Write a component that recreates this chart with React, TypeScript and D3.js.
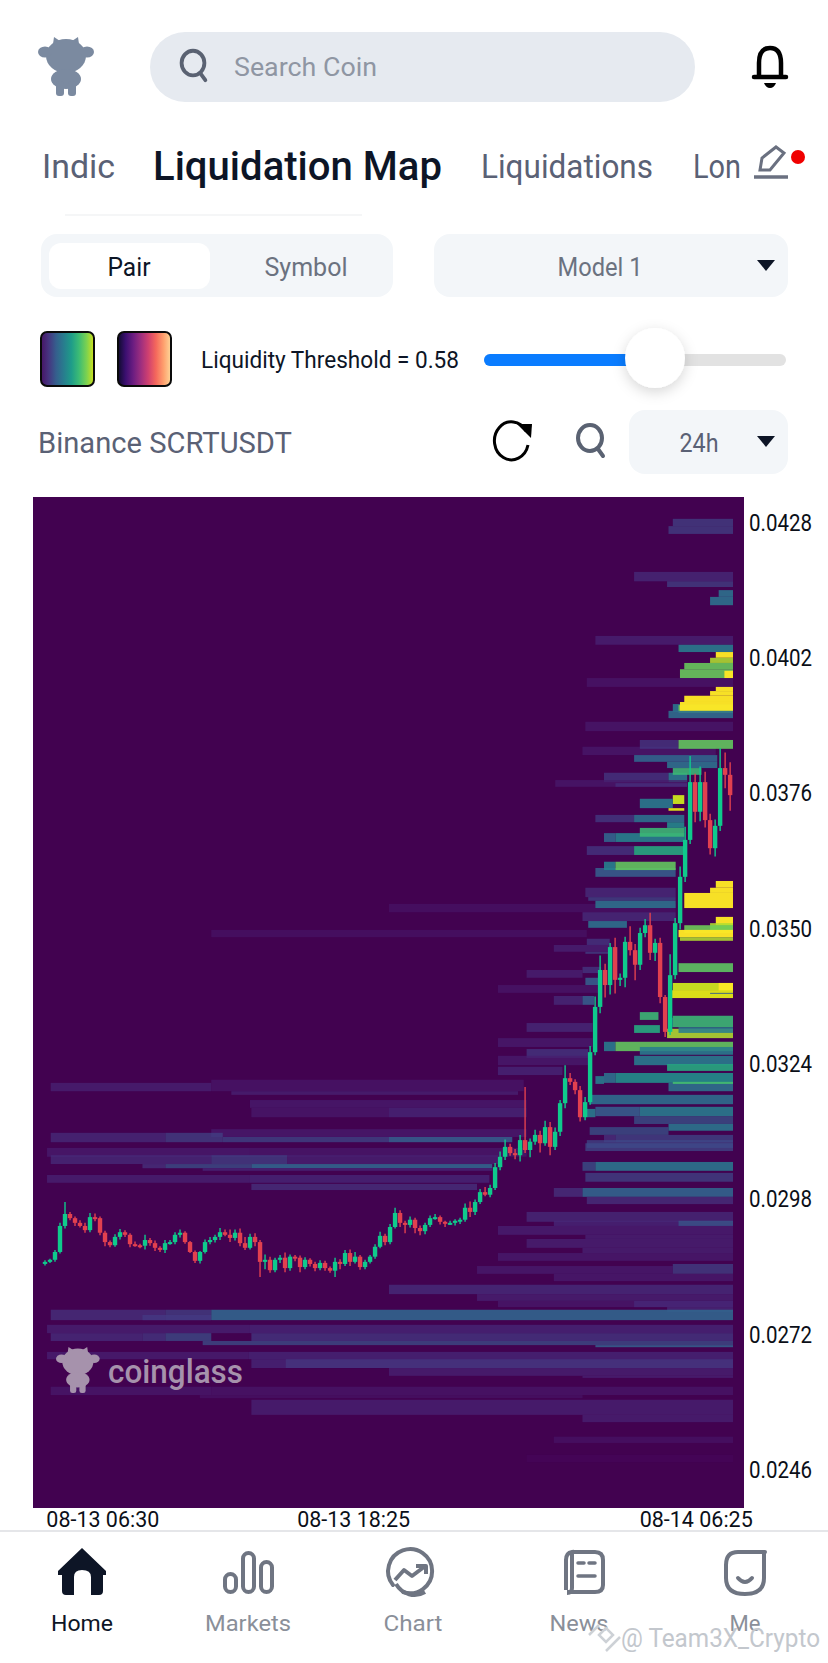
import { useEffect, useRef } from 'react'
import * as d3 from 'd3'

// prices below are in 1e-5 USDT, hours count from the left edge of the 24h window
type Band = [number, number, number, number, number] // top, bottom, startHour, endHour, value

const priceTicks = [0.0428, 0.0402, 0.0376, 0.035, 0.0324, 0.0298, 0.0272, 0.0246]
const timeTicks = [2.0, 10.75, 22.7]
const timeLabels = ['08-13 06:30', '08-13 18:25', '08-14 06:25']

const upperBands: Band[] = [
  [4288, 4274, 21.9, 24, 0.2], [4274, 4259, 21.75, 24, 0.2], [4186, 4168, 20.55, 24, 0.13], [4168, 4157, 21.7, 24, 0.2],
  [4151, 4138, 23.5, 24, 0.38], [4138, 4122, 23.2, 24, 0.38], [4063, 4046, 19.2, 24, 0.1], [4046, 4032, 22.1, 24, 0.42],
  [4032, 4021, 23.4, 24, 1], [4021, 4011, 23.2, 24, 0.88], [4011, 3999, 22.3, 24, 0.77], [3999, 3982, 22.15, 24, 0.77],
  [3996, 3982, 23.7, 24, 1], [3982, 3965, 18.9, 24, 0.06], [3965, 3957, 23.4, 24, 1], [3957, 3948, 23.2, 24, 1],
  [3948, 3936, 22.3, 24, 1], [3932, 3917, 21.9, 24, 0.4], [3930, 3915, 22.1, 24, 0.8], [3936, 3919, 22.15, 24, 1],
  [3919, 3905, 21.75, 24, 0.36], [3898, 3880, 18.85, 24, 0.07], [3850, 3834, 18.75, 23.4, 0.07], [3863, 3846, 20.75, 22.1, 0.17],
  [3863, 3846, 22.1, 24, 0.76], [3834, 3821, 20.55, 23.45, 0.33], [3821, 3809, 21.7, 23.45, 0.38], [3800, 3782, 19.5, 21.75, 0.17],
  [3800, 3782, 21.75, 22.4, 0.42], [3809, 3796, 21.9, 22.9, 0.68], [3786, 3773, 17.8, 22.4, 0.07], [3780, 3773, 19.9, 22.4, 0.14],
  [3757, 3740, 21.9, 22.3, 0.92], [3750, 3732, 20.75, 21.9, 0.42], [3732, 3727, 21.75, 22.3, 0.95], [3719, 3705, 19.2, 20.55, 0.18],
  [3719, 3705, 20.55, 22.3, 0.38], [3705, 3694, 21.7, 22.3, 0.48], [3684, 3667, 19.5, 19.9, 0.33], [3684, 3667, 19.9, 22.3, 0.45],
  [3694, 3677, 20.75, 22.3, 0.68], [3659, 3642, 18.9, 20.55, 0.17], [3659, 3642, 20.55, 22.3, 0.62], [3617, 3600, 19.2, 22, 0.3],
  [3629, 3613, 19.5, 19.9, 0.45], [3629, 3613, 19.9, 22, 0.76], [3592, 3579, 23.4, 24, 1], [3579, 3569, 23.2, 24, 1],
  [3569, 3540, 22.3, 24, 1], [3579, 3561, 18.85, 22, 0.14], [3561, 3554, 18.95, 22, 0.22], [3548, 3532, 12, 22, 0.05],
  [3554, 3540, 19.2, 22, 0.38], [3532, 3515, 18.75, 22, 0.14], [3515, 3502, 18.95, 20.3, 0.38], [3498, 3484, 5.8, 18.9, 0.05],
]

const middleBands: Band[] = [
  [3481, 3469, 18.9, 19.7, 0.17], [3469, 3456, 17.75, 19.7, 0.1], [3456, 3452, 18.85, 19.7, 0.2], [3523, 3507, 23.4, 24, 1],
  [3511, 3492, 23.2, 24, 0.88], [3507, 3492, 22.3, 24, 0.78], [3498, 3484, 22.1, 24, 1], [3484, 3477, 22.15, 24, 0.88],
  [3434, 3417, 22.1, 24, 0.75], [3427, 3415, 18.75, 19.4, 0.17], [3421, 3406, 16.8, 18.75, 0.1], [3406, 3392, 18.85, 19.4, 0.3],
  [3392, 3377, 15.8, 19.3, 0.06], [3396, 3381, 21.9, 24, 0.92], [3396, 3381, 23.5, 24, 1], [3382, 3367, 21.8, 24, 0.95],
  [3377, 3375, 23.2, 24, 0.3], [3371, 3354, 17.75, 18.75, 0.13], [3371, 3354, 18.75, 19.15, 0.3], [3340, 3325, 20.75, 21.4, 0.68],
  [3329, 3311, 21.75, 21.9, 0.4], [3333, 3311, 21.9, 24, 0.68], [3319, 3302, 16.8, 19.1, 0.13], [3315, 3300, 20.55, 21.45, 0.62],
  [3308, 3290, 21.7, 24, 0.88], [3311, 3300, 22.1, 24, 0.42], [3290, 3273, 15.8, 19.1, 0.08], [3283, 3265, 19.5, 19.9, 0.42],
  [3283, 3265, 19.9, 24, 0.76], [3269, 3252, 16.8, 18.95, 0.17], [3273, 3258, 20.75, 24, 0.42], [3256, 3238, 15.8, 18.95, 0.08],
  [3256, 3238, 20.55, 24, 0.42], [3240, 3227, 21.7, 24, 0.62], [3235, 3219, 15.8, 18.05, 0.12], [3217, 3202, 19.2, 19.5, 0.42],
  [3223, 3204, 19.5, 19.9, 0.38], [3223, 3204, 19.9, 24, 0.5], [3204, 3188, 21.75, 24, 0.38], [3206, 3202, 21.9, 24, 0.7],
  [3204, 3188, 0.2, 5.8, 0.1], [3210, 3188, 5.8, 16.7, 0.06], [3188, 3181, 6.5, 16.5, 0.1], [3181, 3163, 19, 24, 0.36],
  [3171, 3156, 7.15, 16.8, 0.08], [3158, 3140, 19.2, 20.75, 0.3], [3158, 3140, 20.75, 24, 0.42], [3154, 3138, 18.9, 19.2, 0.42],
  [3156, 3138, 7.2, 12, 0.07], [3156, 3138, 12, 16.8, 0.12], [3140, 3125, 20.55, 24, 0.27], [3119, 3104, 19, 21.75, 0.27],
  [3125, 3112, 21.75, 24, 0.4],
]

const lowerBands: Band[] = [
  [3115, 3100, 5.8, 16.8, 0.08], [3108, 3090, 0.2, 4.2, 0.13], [3108, 3090, 4.2, 6.2, 0.2], [3100, 3090, 6.2, 12, 0.22],
  [3100, 3090, 12, 16.3, 0.3], [3104, 3090, 19.5, 19.9, 0.15], [3104, 3090, 19.9, 24, 0.22], [3094, 3079, 18.9, 24, 0.22],
  [3088, 3073, 18.85, 24, 0.23], [3079, 3062, 0.07, 7.15, 0.08], [3079, 3062, 7.15, 16.8, 0.07], [3065, 3048, 0.2, 5.8, 0.13],
  [3065, 3048, 5.8, 8.45, 0.2], [3065, 3048, 8.45, 15.8, 0.1], [3048, 3040, 3.4, 4.2, 0.15], [3048, 3040, 4.2, 7.2, 0.26],
  [3048, 3040, 7.2, 15.6, 0.33], [3040, 3035, 5.5, 15.6, 0.12], [3052, 3035, 18.75, 19.2, 0.27], [3052, 3035, 19.2, 24, 0.4],
  [3031, 3014, 18.85, 24, 0.21], [3027, 3012, 0.07, 7.15, 0.1], [3027, 3012, 7.15, 15.5, 0.12], [3010, 2998, 7.2, 15.07, 0.15],
  [3002, 2985, 17.75, 18.75, 0.15], [3002, 2985, 18.75, 24, 0.33], [2985, 2971, 18.9, 24, 0.15], [2956, 2937, 16.8, 24, 0.13],
  [2939, 2929, 17.75, 24, 0.12], [2939, 2929, 22.1, 24, 0.28], [2929, 2912, 15.8, 24, 0.09], [2912, 2904, 18.85, 24, 0.1],
  [2904, 2887, 16.8, 24, 0.1], [2887, 2877, 18.75, 24, 0.1], [2877, 2862, 15.8, 24, 0.08], [2852, 2837, 15.07, 21.9, 0.08],
  [2856, 2837, 21.9, 24, 0.2], [2837, 2823, 17.75, 24, 0.08], [2816, 2798, 12, 24, 0.14], [2798, 2785, 15.07, 24, 0.1],
  [2785, 2773, 15.8, 24, 0.07], [2785, 2773, 20.55, 24, 0.12], [2773, 2764, 21.7, 24, 0.13], [2768, 2748, 0.2, 4.2, 0.15],
  [2768, 2748, 4.2, 5.8, 0.2], [2758, 2748, 3.4, 5.8, 0.17], [2768, 2748, 5.8, 24, 0.33], [2739, 2723, 0.07, 7.15, 0.1],
  [2739, 2723, 7.15, 24, 0.12], [2723, 2708, 0.2, 3.4, 0.14], [2723, 2708, 3.4, 4.2, 0.17], [2723, 2708, 4.2, 5.8, 0.25],
  [2723, 2708, 7.2, 24, 0.17], [2708, 2700, 5.5, 24, 0.25], [2700, 2696, 19.2, 24, 0.3], [2687, 2673, 0.07, 7.1, 0.09],
  [2687, 2673, 7.1, 24, 0.12], [2673, 2656, 7.2, 24, 0.12], [2673, 2656, 8.4, 24, 0.16], [2656, 2641, 12, 24, 0.1],
  [2641, 2637, 18.75, 24, 0.1], [2620, 2604, 0.2, 5.8, 0.07], [2620, 2604, 5.8, 24, 0.06], [2604, 2598, 5.4, 18.75, 0.05],
  [2595, 2566, 7.2, 24, 0.1], [2566, 2552, 18.75, 24, 0.1], [2524, 2512, 17.75, 24, 0.05], [2489, 2475, 16.8, 24, 0.015],
]

const candleClose = [
  2860, 2864, 2879, 2929, 2952, 2944, 2935, 2929, 2921, 2946,
  2944, 2916, 2898, 2892, 2908, 2917, 2912, 2894, 2892, 2891,
  2902, 2896, 2887, 2883, 2896, 2898, 2912, 2916, 2898, 2879,
  2862, 2879, 2898, 2902, 2908, 2917, 2912, 2906, 2916, 2896,
  2887, 2908, 2898, 2860, 2864, 2844, 2864, 2868, 2848, 2870,
  2868, 2850, 2864, 2856, 2848, 2858, 2848, 2843, 2860, 2856,
  2877, 2860, 2870, 2850, 2860, 2870, 2889, 2910, 2898, 2927,
  2954, 2935, 2931, 2941, 2925, 2919, 2931, 2944, 2946, 2937,
  2935, 2935, 2939, 2941, 2964, 2956, 2975, 2994, 2989, 3002,
  3042, 3062, 3081, 3069, 3065, 3094, 3075, 3091, 3104, 3088,
  3119, 3081, 3110, 3165, 3213, 3206, 3190, 3138, 3167, 3263,
  3350, 3421, 3392, 3465, 3402, 3406, 3475, 3459, 3431, 3492,
  3507, 3454, 3473, 3369, 3302, 3411, 3511, 3600, 3671, 3782,
  3725, 3782, 3709, 3655, 3698, 3809, 3796, 3757,
]
const upperWick = [
  3, 2, 4, 6, 23, 4, 3, 5, 6, 8,
  7, 3, 4, 3, 5, 6, 4, 3, 5, 3,
  10, 4, 5, 3, 6, 4, 5, 6, 3, 2,
  3, 2, 5, 6, 4, 8, 5, 10, 6, 8,
  12, 6, 7, 4, 10, 6, 4, 5, 10, 4,
  3, 4, 5, 3, 4, 5, 4, 3, 8, 5,
  6, 7, 9, 3, 4, 3, 5, 8, 4, 6,
  10, 5, 4, 6, 4, 5, 4, 5, 6, 3,
  2, 4, 3, 4, 8, 12, 5, 6, 10, 6,
  8, 10, 14, 6, 8, 10, 102, 6, 10, 8,
  12, 10, 8, 6, 25, 10, 5, 8, 10, 12,
  20, 28, 12, 8, 18, 8, 10, 30, 12, 10,
  12, 24, 8, 10, 4, 40, 10, 20, 25, 50,
  16, 30, 20, 12, 12, 38, 30, 24,
]
const lowerWick = [
  3, 2, 4, 3, 5, 4, 6, 3, 5, 4,
  6, 5, 8, 4, 3, 5, 4, 6, 3, 5,
  7, 5, 6, 4, 6, 3, 4, 5, 3, 2,
  4, 5, 3, 4, 5, 6, 3, 8, 5, 6,
  4, 3, 8, 29, 14, 5, 4, 6, 8, 5,
  7, 10, 4, 5, 6, 4, 5, 4, 12, 10,
  4, 8, 3, 5, 4, 3, 4, 3, 6, 4,
  3, 8, 16, 5, 10, 8, 6, 4, 3, 5,
  8, 4, 5, 6, 4, 10, 6, 4, 3, 5,
  4, 6, 6, 5, 8, 12, 6, 14, 6, 18,
  5, 16, 6, 8, 10, 6, 8, 8, 6, 5,
  6, 12, 24, 18, 26, 12, 18, 10, 30, 10,
  8, 14, 16, 12, 10, 6, 8, 12, 10, 8,
  20, 18, 14, 12, 16, 10, 26, 30,
]

const magmaStops = [0.08, 0.2, 0.32, 0.44, 0.56, 0.68, 0.8, 0.92].map(d3.interpolateMagma)
const viridisStops = [0.05, 0.15, 0.3, 0.42, 0.55, 0.68, 0.8, 0.93].map(d3.interpolateViridis)

const FONT = 'Roboto, sans-serif'

function Label({ x, y, w, size, fill, anchor = 'start', weight = 400, children }: any) {
  return (
    <text x={x} y={y} fontSize={size} fill={fill} textAnchor={anchor} fontWeight={weight} fontFamily={FONT}
      textLength={w} lengthAdjust="spacingAndGlyphs" dominantBaseline="central">
      {children}
    </text>
  )
}

function Bull({ x, y, k, fill }: any) {
  return (
    <g transform={`translate(${x},${y}) scale(${k})`} fill={fill}>
      <path d="M15 7 L16 0 L22 4 H34 L40 0 L41 7 Z" />
      <ellipse cx={28} cy={19} rx={20} ry={17} />
      <ellipse cx={7} cy={15} rx={7} ry={5.5} />
      <ellipse cx={49} cy={15} rx={7} ry={5.5} />
      <ellipse cx={28} cy={42} rx={15} ry={10} />
      <rect x={18} y={44} width={8} height={15} rx={3} />
      <rect x={30} y={44} width={8} height={15} rx={3} />
    </g>
  )
}

function Triangle({ x, y }: { x: number; y: number }) {
  return <path d={`M${x - 9} ${y - 5} H${x + 9} L${x} ${y + 6} Z`} fill="#0d1526" />
}

function SearchIcon({ x, y, k = 1 }: { x: number; y: number; k?: number }) {
  return (
    <g transform={`translate(${x},${y}) scale(${k})`} fill="none" stroke="#5a6272" strokeWidth={4} strokeLinecap="round">
      <ellipse cx={0} cy={-2} rx={12} ry={13} />
      <path d="M8 9 L13 16" />
    </g>
  )
}

export default function App() {
  const chartRef = useRef<SVGGElement>(null)

  useEffect(() => {
    if (!chartRef.current) return
    const g = d3.select(chartRef.current)
    g.selectAll('*').remove()

    const x = d3.scaleLinear().domain([0, 24]).range([45, 733])
    const y = d3.scaleLinear().domain([0.0246, 0.0428]).range([1470, 523])
    const colour = d3.scaleSequential(d3.interpolateViridis).domain([0, 1])
    const candleX = d3.scaleLinear().domain([0, candleClose.length - 1]).range([x(0), x(23.9)])
    const price = (p: number) => y(p / 1e5)

    g.append('rect').attr('x', 33).attr('y', 497).attr('width', 711).attr('height', 1011).attr('fill', '#420250')

    // heat bands, painted in list order; the weak ones sit closer to the background
    g.append('g')
      .selectAll('rect')
      .data([...upperBands, ...middleBands, ...lowerBands])
      .join('rect')
      .attr('x', d => x(d[2]))
      .attr('y', d => price(d[0]))
      .attr('width', d => x(d[3]) - x(d[2]))
      .attr('height', d => price(d[1]) - price(d[0]))
      .attr('fill', d => colour(d[4]))
      .attr('fill-opacity', d => (d[4] < 0.3 ? 0.72 : d[4] < 0.9 ? 0.88 : 0.97))

    // candles, each opens at the previous close
    const candles = candleClose.map((close, i) => {
      const open = i === 0 ? close - 4 : candleClose[i - 1]
      return {
        i, open, close,
        high: Math.max(open, close) + upperWick[i],
        low: Math.min(open, close) - lowerWick[i],
      }
    })
    const candleColour = (d: { open: number; close: number }) => (d.close >= d.open ? '#0fca8c' : '#e2404f')
    const cg = g.append('g')
    cg.selectAll('line')
      .data(candles)
      .join('line')
      .attr('x1', d => candleX(d.i)).attr('x2', d => candleX(d.i))
      .attr('y1', d => price(d.high)).attr('y2', d => price(d.low))
      .attr('stroke', candleColour).attr('stroke-width', 1.4)
    cg.selectAll('rect')
      .data(candles)
      .join('rect')
      .attr('x', d => candleX(d.i) - 2.2)
      .attr('width', 4.4)
      .attr('y', d => price(Math.max(d.open, d.close)))
      .attr('height', d => Math.max(2, price(Math.min(d.open, d.close)) - price(Math.max(d.open, d.close))))
      .attr('fill', candleColour)

    // axes
    const yAxis = d3.axisRight(y).tickValues(priceTicks).tickSize(0).tickPadding(0).tickFormat(d3.format('.4f') as any)
    const ya = g.append('g').attr('transform', 'translate(749,0)').call(yAxis)
    ya.select('.domain').remove()
    ya.selectAll('text')
      .attr('font-family', FONT).attr('font-size', 23).attr('fill', '#0b0f18')
      .attr('textLength', 63).attr('lengthAdjust', 'spacingAndGlyphs')

    const xAxis = d3.axisBottom(x).tickValues(timeTicks).tickSize(0).tickPadding(0)
      .tickFormat((_, i) => timeLabels[i])
    const xa = g.append('g').attr('transform', 'translate(0,1511)').call(xAxis)
    xa.select('.domain').remove()
    xa.selectAll('text')
      .attr('font-family', FONT).attr('font-size', 22).attr('fill', '#0b0f18')
      .attr('textLength', 113).attr('lengthAdjust', 'spacingAndGlyphs')
  }, [])

  return (
    <svg width={828} height={1663} style={{ position: 'absolute', left: 0, top: 0, background: '#fff' }}>
      <defs>
        <linearGradient id="viridisSwatch">
          {viridisStops.map((c, i) => <stop key={i} offset={i / (viridisStops.length - 1)} stopColor={c} />)}
        </linearGradient>
        <linearGradient id="magmaSwatch">
          {magmaStops.map((c, i) => <stop key={i} offset={i / (magmaStops.length - 1)} stopColor={c} />)}
        </linearGradient>
        <filter id="knobShadow" x="-50%" y="-50%" width="200%" height="200%">
          <feDropShadow dx={0} dy={4} stdDeviation={7} floodColor="#000" floodOpacity={0.16} />
        </filter>
      </defs>

      {/* top bar */}
      <Bull x={38} y={37} k={1} fill="#7b8aa0" />
      <rect x={150} y={32} width={545} height={70} rx={35} fill="#e6eaf0" />
      <SearchIcon x={193} y={65} k={0.95} />
      <Label x={234} y={67} w={143} size={26} fill="#8f96a3">Search Coin</Label>
      <g fill="none" stroke="#000" strokeWidth={4.5}>
        <path d="M759 77 V63 Q759 48 770 48 Q781 48 781 63 V77" />
        <path d="M754 77 H786" strokeLinecap="round" />
      </g>
      <path d="M764 83 H776 Q774 88 770 88 Q766 88 764 83 Z" fill="#000" />

      {/* tabs */}
      <Label x={42} y={166} w={73} size={34} fill="#5a6175">Indic</Label>
      <Label x={153} y={166} w={289} size={40} fill="#0d1526" weight={500}>Liquidation Map</Label>
      <Label x={481} y={166} w={172} size={34} fill="#5a6175">Liquidations</Label>
      <Label x={693} y={166} w={48} size={34} fill="#5a6175">Lon</Label>
      <g fill="none" stroke="#6a7080" strokeWidth={3}>
        <path d="M760 170 L762 158 L776 147 L784 153 L770 170 Z" />
        <path d="M754 177 H788" strokeWidth={3.5} />
      </g>
      <circle cx={798} cy={157} r={7} fill="#f00000" />
      <path d="M65 215 H362" stroke="#f2f3f5" strokeWidth={1.5} />

      {/* selectors */}
      <rect x={41} y={234} width={352} height={63} rx={16} fill="#f3f6f9" />
      <rect x={49} y={243} width={161} height={46} rx={12} fill="#fff" />
      <Label x={129} y={267} w={43} size={25} fill="#0d1526" anchor="middle">Pair</Label>
      <Label x={306} y={267} w={83} size={25} fill="#6b7280" anchor="middle">Symbol</Label>
      <rect x={434} y={234} width={354} height={63} rx={16} fill="#f3f6f9" />
      <Label x={600} y={267} w={85} size={25} fill="#6b7280" anchor="middle">Model 1</Label>
      <Triangle x={766} y={265} />

      {/* palette swatches and threshold slider */}
      <rect x={41} y={332} width={53} height={54} rx={6} fill="url(#viridisSwatch)" stroke="#0a0a0a" strokeWidth={2} />
      <rect x={118} y={332} width={53} height={54} rx={6} fill="url(#magmaSwatch)" stroke="#0a0a0a" strokeWidth={2} />
      <Label x={201} y={360} w={258} size={24} fill="#0d1526">Liquidity Threshold = 0.58</Label>
      <rect x={484} y={354} width={302} height={12} rx={6} fill="#e2e2e2" />
      <rect x={484} y={354} width={160} height={12} rx={6} fill="#0a7cff" />
      <circle cx={655} cy={358} r={30} fill="#fff" filter="url(#knobShadow)" />

      {/* pair row */}
      <Label x={38} y={443} w={254} size={29} fill="#5a6175">Binance SCRTUSDT</Label>
      <g fill="none" stroke="#000" strokeWidth={3}>
        <path d="M526 431 A17 19 0 1 0 528 445" />
      </g>
      <path d="M517 424 L532 424 L531 438 Z" fill="#000" />
      <SearchIcon x={590} y={440} k={1} />
      <rect x={629} y={410} width={159} height={64} rx={16} fill="#f3f6f9" />
      <Label x={699} y={443} w={39} size={25} fill="#5a6175" anchor="middle">24h</Label>
      <Triangle x={766} y={441} />

      {/* liquidation heat map */}
      <g ref={chartRef} />
      <Bull x={56} y={1347} k={0.78} fill="#a692ac" />
      <Label x={108} y={1371} w={135} size={33} fill="#a692ac" weight={500}>coinglass</Label>

      {/* bottom navigation */}
      <path d="M0 1531 H828" stroke="#dcdee2" strokeWidth={1.5} />
      <path d="M82 1548 L106 1571 V1575 H103 V1591 Q103 1595 99 1595 H91 V1577 Q91 1570 82 1570 Q74 1570 74 1577 V1595 H66 Q62 1595 62 1591 V1575 H58 V1571 Z" fill="#0d1526" />
      <g fill="none" stroke="#6f7582" strokeWidth={4}>
        <rect x={225} y={1574} width={11} height={18} rx={5.5} />
        <rect x={243} y={1553} width={11} height={39} rx={5.5} />
        <rect x={261} y={1562} width={11} height={30} rx={5.5} />
        <path d="M393 1585 A22 22 0 1 1 403 1592" strokeLinecap="round" />
        <path d="M395 1580 L404 1570 L412 1576 L424 1567 M416 1566 H426 V1574" strokeLinejoin="round" />
        <path d="M396 1584 A22 24 0 0 0 425 1592" />
        <path d="M566 1590 V1560 Q566 1553 572 1552 V1588 Q572 1593 567 1593 M572 1552 H595 Q603 1552 603 1560 V1585 Q603 1592 595 1592 H567" />
        <path d="M578 1563 H584 M589 1563 H595 M578 1576 H595" strokeLinecap="round" strokeWidth={3.5} />
        <path d="M765 1552 H738 Q726 1552 726 1565 V1578 Q726 1594 745 1594 Q764 1594 764 1578 V1552" strokeLinecap="round" />
        <path d="M738 1578 Q745 1586 752 1578" strokeLinecap="round" />
      </g>
      <Label x={82} y={1623} w={62} size={22} fill="#0d1526" anchor="middle">Home</Label>
      <Label x={248} y={1623} w={86} size={22} fill="#8a8f99" anchor="middle">Markets</Label>
      <Label x={413} y={1623} w={59} size={22} fill="#8a8f99" anchor="middle">Chart</Label>
      <Label x={579} y={1623} w={59} size={22} fill="#8a8f99" anchor="middle">News</Label>
      <Label x={745} y={1623} w={31} size={22} fill="#8a8f99" anchor="middle">Me</Label>

      {/* repost watermark */}
      <path d="M599 1635 L606 1628 L613 1635 L606 1642 Z M589 1635 L599 1625 M606 1651 L620 1637" fill="none" stroke="#cdd1d6" strokeWidth={2.5} />
      <Label x={621} y={1638} w={199} size={25} fill="#c3c7cd">@ Team3X_Crypto</Label>
    </svg>
  )
}
